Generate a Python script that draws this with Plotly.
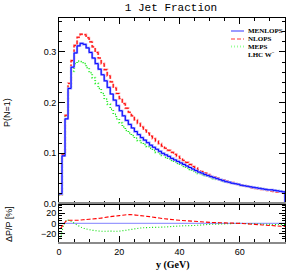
import numpy as np
import plotly.graph_objects as go

# ---------------- data ----------------
bin_edges = list(range(0, 76))  # 1 GeV bins, 0..75 GeV

menlops = [0.020, 0.095, 0.168, 0.228, 0.270, 0.298, 0.312, 0.317, 0.315, 0.308,
           0.299, 0.288, 0.277, 0.266, 0.255, 0.243, 0.230, 0.217, 0.205, 0.194,
           0.184, 0.174, 0.165, 0.157, 0.150, 0.143, 0.137, 0.131, 0.126, 0.121,
           0.116, 0.112, 0.108, 0.104, 0.100, 0.097, 0.094, 0.090, 0.087, 0.084,
           0.081, 0.078, 0.075, 0.072, 0.069, 0.066, 0.063, 0.061, 0.058, 0.056,
           0.054, 0.052, 0.050, 0.048, 0.046, 0.044, 0.043, 0.041, 0.040, 0.039,
           0.037, 0.036, 0.035, 0.034, 0.033, 0.032, 0.031, 0.030, 0.029, 0.028,
           0.028, 0.027, 0.026, 0.025, 0.024]

nlops = [0.019, 0.098, 0.175, 0.238, 0.283, 0.313, 0.329, 0.335, 0.334, 0.328,
         0.320, 0.310, 0.299, 0.288, 0.277, 0.265, 0.253, 0.241, 0.229, 0.218,
         0.208, 0.198, 0.189, 0.181, 0.174, 0.166, 0.159, 0.152, 0.146, 0.140,
         0.134, 0.129, 0.124, 0.119, 0.114, 0.110, 0.106, 0.102, 0.098, 0.094,
         0.090, 0.086, 0.082, 0.078, 0.074, 0.071, 0.067, 0.064, 0.061, 0.058,
         0.056, 0.053, 0.051, 0.049, 0.047, 0.045, 0.043, 0.042, 0.040, 0.039,
         0.037, 0.036, 0.035, 0.033, 0.032, 0.031, 0.030, 0.029, 0.028, 0.027,
         0.026, 0.025, 0.024, 0.024, 0.023]

meps = [0.018, 0.098, 0.175, 0.232, 0.262, 0.277, 0.282, 0.281, 0.277, 0.269,
        0.259, 0.249, 0.238, 0.228, 0.218, 0.207, 0.197, 0.187, 0.177, 0.168,
        0.160, 0.152, 0.145, 0.140, 0.135, 0.130, 0.125, 0.121, 0.117, 0.113,
        0.110, 0.106, 0.102, 0.099, 0.096, 0.092, 0.089, 0.086, 0.083, 0.080,
        0.077, 0.074, 0.071, 0.068, 0.065, 0.063, 0.060, 0.058, 0.056, 0.054,
        0.052, 0.050, 0.049, 0.047, 0.045, 0.044, 0.042, 0.041, 0.040, 0.039,
        0.037, 0.036, 0.035, 0.034, 0.033, 0.032, 0.031, 0.030, 0.029, 0.028,
        0.027, 0.026, 0.026, 0.025, 0.024]

ratio_x = [0.5, 1.5, 2.5, 4, 6, 8, 10, 13.6, 17, 20, 23.6, 27, 30, 35, 40, 45,
           50, 55, 60, 65, 70, 75]
ratio_nlops = [-10, -2, 5, 6, 6, 7, 8, 10, 13, 15, 17, 15, 13, 9, 6, 4,
               2, 1, 0, -2, -4, -6]
ratio_meps = [-30, -5, 6, 4, -3, -9, -12, -15, -15, -15, -12, -9, -8, -7, -5, -4,
              -2, -1, 0, -1, -2, -2]
ratio_ref = [0, 0]
ratio_ref_x = [0, 75]

legend_names = ["MENLOPS", "NLOPS", "MEPS"]
legend_extra = "LHC W<sup>−</sup>"

# ---------------- styles ----------------
dark = {"MENLOPS": "#0000ff", "NLOPS": "#ff0000", "MEPS": "#00dd00"}
light = {"MENLOPS": "#9a9aff", "NLOPS": "#ff9a9a", "MEPS": "#9aff9a"}
dash = {"MENLOPS": "solid", "NLOPS": "4px,2px", "MEPS": "1px,2px"}

W, H = 287, 273
L, R, T, B = 59, 2, 18, 31
PW, PH = W - L - R, H - T - B
split = (242 - 204) / PH


def px_x(p):
    return (p - L) / PW


def px_y(p):
    return (H - B - p) / PH


fig = go.Figure()


def step(vals):
    xs = list(bin_edges) + [bin_edges[-1]]
    ys = list(vals) + [vals[-1], 0]
    return xs, ys


series = [("MENLOPS", menlops), ("NLOPS", nlops), ("MEPS", meps)]
for name, vals in series[::-1]:
    xs, ys = step(vals)
    fig.add_trace(go.Scatter(x=xs, y=ys, mode="lines", line_shape="hv",
                             line=dict(color=light[name], width=2.2, dash=dash[name]),
                             xaxis="x", yaxis="y", showlegend=False, hoverinfo="skip"))
    fig.add_trace(go.Scatter(x=xs, y=ys, mode="lines", line_shape="hv",
                             line=dict(color=dark[name], width=1, dash=dash[name]),
                             xaxis="x", yaxis="y", showlegend=False))

# ratio panel
fig.add_trace(go.Scatter(x=ratio_ref_x, y=ratio_ref, mode="lines",
                         line=dict(color=light["MENLOPS"], width=1.2),
                         xaxis="x2", yaxis="y2", showlegend=False))
fig.add_trace(go.Scatter(x=ratio_x, y=ratio_meps, mode="lines", line_shape="spline",
                         line=dict(color=dark["MEPS"], width=1.1, dash=dash["MEPS"]),
                         xaxis="x2", yaxis="y2", showlegend=False))
fig.add_trace(go.Scatter(x=ratio_x, y=ratio_nlops, mode="lines", line_shape="spline",
                         line=dict(color=dark["NLOPS"], width=1.1, dash=dash["NLOPS"]),
                         xaxis="x2", yaxis="y2", showlegend=False))

tickfont = dict(family="Liberation Sans, Arial, sans-serif", size=9, color="black")

common_x = dict(range=[0, 75], ticks="inside", ticklen=6, tickwidth=1, tickcolor="black",
                dtick=20, tick0=0, mirror="ticks", showgrid=False, zeroline=False,
                minor=dict(dtick=5, ticks="inside", ticklen=3, tickcolor="black"))

fig.update_layout(
    width=W, height=H,
    margin=dict(l=L, r=R, t=T, b=B),
    plot_bgcolor="white", paper_bgcolor="white",
    showlegend=False,
    xaxis=dict(**common_x, domain=[0, 1], anchor="y", showticklabels=False,
               showline=True, linecolor="black", linewidth=1),
    yaxis=dict(range=[0, 0.367], domain=[split, 1], anchor="x", ticks="inside",
               ticklen=6, tickcolor="black", dtick=0.1, tick0=0, tickformat=".1f",
               mirror="ticks", showline=True, linecolor="black", linewidth=1,
               showgrid=False, zeroline=False, tickfont=tickfont,
               minor=dict(dtick=0.02, ticks="inside", ticklen=3, tickcolor="black")),
    xaxis2=dict(**common_x, domain=[0, 1], anchor="y2", showticklabels=True,
                tickfont=tickfont, showline=True, linecolor="#8a8a8a", linewidth=2),
    yaxis2=dict(range=[-36, 37.5], domain=[0, split], anchor="x2", ticks="inside",
                ticklen=6, tickcolor="black", dtick=20, tick0=0, mirror="ticks",
                showline=True, linecolor="black", linewidth=1, showgrid=False,
                zeroline=False, tickfont=tickfont,
                minor=dict(dtick=5, ticks="inside", ticklen=3, tickcolor="black")),
    title=dict(text="1 Jet Fraction", x=171 / W, y=1 - 7 / H, xanchor="center",
               yanchor="middle",
               font=dict(family="Liberation Mono, Courier New, monospace", size=11,
                         color="black")),
)

# legend (manual)
rows = [31, 39, 46.5, 54]
serif = "Liberation Serif, Times New Roman, serif"
for i, name in enumerate(legend_names):
    fig.add_shape(type="line", xref="paper", yref="paper",
                  x0=px_x(231), x1=px_x(244), y0=px_y(rows[i]), y1=px_y(rows[i]),
                  line=dict(color=light[name], width=2, dash=dash[name]))
    fig.add_annotation(text="<b>" + name + "</b>", xref="paper", yref="paper",
                       x=px_x(246), y=px_y(rows[i]), xanchor="left", yanchor="middle",
                       showarrow=False, font=dict(family=serif, size=7, color="black"))
fig.add_annotation(text="<b>" + legend_extra + "</b>", xref="paper", yref="paper",
                   x=px_x(246), y=px_y(rows[3]), xanchor="left", yanchor="middle",
                   showarrow=False, font=dict(family=serif, size=7, color="black"))

# axis titles
fig.add_annotation(text="P(N=1)", xref="paper", yref="paper", x=px_x(7), y=px_y(113),
                   textangle=-90, showarrow=False, xanchor="center", yanchor="middle",
                   font=dict(family="Liberation Sans, Arial, sans-serif", size=9,
                             color="black"))
fig.add_annotation(text="ΔP/P [%]", xref="paper", yref="paper", x=px_x(9), y=px_y(224),
                   textangle=-90, showarrow=False, xanchor="center", yanchor="middle",
                   font=dict(family="Liberation Sans, Arial, sans-serif", size=9,
                             color="black"))
fig.add_annotation(text="<b>y (GeV)</b>", xref="paper", yref="paper", x=px_x(173),
                   y=px_y(265), showarrow=False, xanchor="center", yanchor="middle",
                   font=dict(family=serif, size=10, color="black"))

fig.write_html("out.html", config={"displayModeBar": False},
               post_script="document.body.style.margin='0';document.body.style.padding='0';")
